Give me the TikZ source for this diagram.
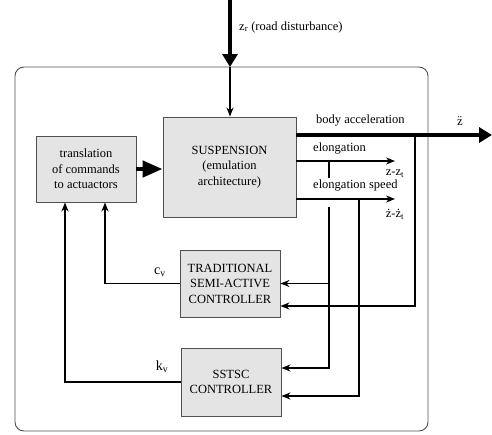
\documentclass[tikz,border=0pt]{standalone}
\usepackage{fontspec}
\setmainfont{Liberation Serif}
\usepackage{tikz}
\usetikzlibrary{arrows.meta,positioning,calc}
\definecolor{boxgray}{RGB}{228,228,228}
\definecolor{edgegray}{RGB}{80,80,80}

\begin{document}
\begin{tikzpicture}[x=1pt,y=-1pt,
  box/.style={draw=edgegray,fill=boxgray,line width=0.9pt,align=center,inner sep=0pt,
              font=\fontsize{12.5}{15.5}\selectfont},
  lbl/.style={inner sep=1pt,font=\fontsize{12.5}{14}\selectfont},
  arr/.style={-{Stealth[length=9pt,width=7pt]},line width=1.6pt},
  bigarr/.style={-{Triangle[length=13pt,width=15pt]},line width=4.5pt}
]
\useasboundingbox (0,0) rectangle (492,434);
% frame
\draw[edgegray,line width=0.9pt,rounded corners=9pt] (15,67) rectangle (428,431);
% blocks
\node[box,minimum width=133pt,minimum height=100pt] (susp) at (229.5,167)
  {SUSPENSION\\(emulation\\architecture)};
\node[box,minimum width=100pt,minimum height=66pt] (trans) at (86,169)
  {translation\\of commands\\to actuactors};
\node[box,minimum width=100pt,minimum height=67pt] (trad) at (230,283.5)
  {TRADITIONAL\\SEMI-ACTIVE\\CONTROLLER};
\node[box,minimum width=100pt,minimum height=68pt] (sstsc) at (231,382)
  {SSTSC\\CONTROLLER};
% input
\coordinate (in) at (230,0);
\coordinate (top) at (230,67);
\draw[bigarr] (in) -- (top);
\draw[arr] (top) -- (susp.north -| top);
\node[lbl,anchor=west] (zr) at (238,27) {z\textsubscript{r} (road disturbance)};
\draw[-{Triangle[length=20pt,width=16pt]},line width=4.5pt] (trans.east) -- (susp.west |- trans.east);
% outputs
\coordinate (acc) at (296,135);
\coordinate (out) at (492,135);
\coordinate (el) at (296,161);
\coordinate (elend) at (395,161);
\coordinate (sp) at (296,199);
\coordinate (spend) at (395,199);
\draw[bigarr] (acc) -- (out);
\draw[arr] (el) -- (elend);
\draw[arr] (sp) -- (spend);
\node[lbl,anchor=west] (lacc) at (315,121) {body acceleration};
\node[lbl] (zdd) at (460,121) {\"{z}};
\node[lbl,anchor=west] (lel) at (312,149) {elongation};
\node[lbl,anchor=west] (lsp) at (312,186) {elongation speed};
\node[lbl] (zz) at (395,174) {z-z\textsubscript{t}};
\node[lbl] (zzd) at (395,214) {\.{z}-\.{z}\textsubscript{t}};
% feedback to controllers
\draw[arr] (415,135) |- ($(trad.east)+(0,22.5)$);
\draw[line width=1.6pt] (329,161) -- (329,178);
\draw[arr] (329,207) |- (sstsc.east |- 0,368);
\draw[arr] (329,283.5) -- (trad.east);
\draw[arr] (359,199) |- (sstsc.east |- 0,396);
% commands back
\draw[arr] (trad.west) -| (trans.south -| 105,0);
\draw[arr] (sstsc.west) -| (trans.south -| 65,0);
\node[lbl,font=\fontsize{14}{14}\selectfont] (cv) at (160,272) {c\textsubscript{v}};
\node[lbl,font=\fontsize{14}{14}\selectfont] (kv) at (162,367) {k\textsubscript{v}};
\end{tikzpicture}
\end{document}
